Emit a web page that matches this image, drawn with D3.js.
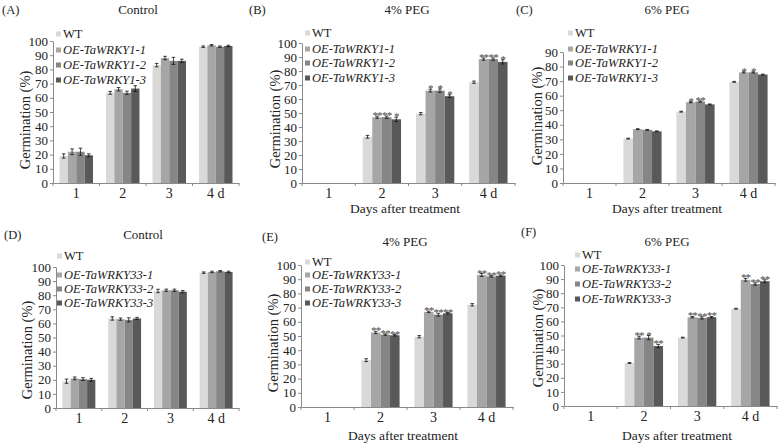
<!DOCTYPE html>
<html><head><meta charset="utf-8">
<script src="https://cdn.jsdelivr.net/npm/d3@7"></script>
<style>body{margin:0;background:#fff}svg{display:block}</style>
</head><body>
<svg id="c" width="778" height="443"></svg>
<script>
// ---------- DATA ----------
const days = ["1", "2", "3", "4 d"];
const linesW1 = ["WT", "OE-TaWRKY1-1", "OE-TaWRKY1-2", "OE-TaWRKY1-3"];
const linesW33 = ["WT", "OE-TaWRKY33-1", "OE-TaWRKY33-2", "OE-TaWRKY33-3"];
const yTicks100 = [0,10,20,30,40,50,60,70,80,90,100];
const yTicks90 = [0,10,20,30,40,50,60,70,80,90];

// values per day: [WT, OE-1, OE-2, OE-3]
const ctrlW1 = [[19,22,22,19.5],[63.5,66,63.5,66.5],[83,88,86,86],[96,97,96,96.5]];
const ctrlW1Err = [[1.5,2,2.5,1],[1,1.2,1.2,2],[1.2,1.2,2.5,1.2],[0.5,0.5,0.5,0.5]];
const ctrlW1Sig = [["","","",""],["","","",""],["","","",""],["","","",""]];

const peg4W1 = [[0,0,0,0],[33,47,47,45.5],[49.5,66,66,62],[72,88.5,88.5,86.5]];
const peg4W1Err = [[0,0,0,0],[1,0.8,0.8,1.5],[0.8,1,1.2,1],[0.8,0.8,0.8,1.5]];
const peg4W1Sig = [["","","",""],["","**","**","*"],["","*","*","*"],["","**","**","*"]];

const peg6W1 = [[0,0,0,0],[30.5,37,36.5,35.5],[49,55.5,56,54],[69.5,76,76,74.5]];
const peg6W1Err = [[0,0,0,0],[0.3,0.3,0.3,0.3],[0.3,0.4,0.4,0.3],[0.3,0.4,0.4,0.3]];
const peg6W1Sig = [["","","",""],["","","",""],["","*","**",""],["","*","*",""]];

const ctrlW33 = [[19,21,20.5,20],[63.5,63,62.5,63.5],[83,83.5,83.5,82.5],[96,96.5,97,96.5]];
const ctrlW33Err = [[1.5,1,1,1],[1.2,0.8,1.5,0.8],[1.2,0.8,0.8,0.8],[0.5,0.5,0.5,0.5]];
const ctrlW33Sig = [["","","",""],["","","",""],["","","",""],["","","",""]];

const peg4W33 = [[0,0,0,0],[33,52.5,51,50.5],[49.5,67,65,66],[72,93,92,92.5]];
const peg4W33Err = [[0,0,0,0],[1,0.8,0.5,0.5],[0.8,0.5,1,0.5],[0.8,1,0.5,0.5]];
const peg4W33Sig = [["","","",""],["","**","**","**"],["","**","**","**"],["","**","**","**"]];

const peg6W33 = [[0,0,0,0],[30.5,48.5,48.5,42.5],[48.5,63,62.5,63],[69,89.5,86.5,88.5]];
const peg6W33Err = [[0,0,0,0],[0.3,1,1.5,1.2],[0.3,0.5,0.8,0.5],[0.3,1,0.8,1]];
const peg6W33Sig = [["","","",""],["","**","*","**"],["","**","**","**"],["","**","**","**"]];

const colors = ["#d9d9d9", "#a6a6a6", "#868686", "#595959"];

// ---------- LAYOUT ----------
const panels = [
  {tag:"(A)", tagX:2, tagY:14, title:"Control", titleX:138, titleY:14, left:53, right:239, base:183, top:41, max:100, ticks:yTicks100,
   vals:ctrlW1, err:ctrlW1Err, sig:ctrlW1Sig, lines:linesW1, legX:56, legY:[34,50,65,80], ylabX:25, ylabY:120, xlab:false},
  {tag:"(B)", tagX:249, tagY:14, title:"4% PEG", titleX:407, titleY:14, left:302, right:515, base:183, top:43, max:100, ticks:yTicks100,
   vals:peg4W1, err:peg4W1Err, sig:peg4W1Sig, lines:linesW1, legX:305, legY:[33,49,63,78], ylabX:275, ylabY:119, xlab:true, xlabX:405, xlabY:213},
  {tag:"(C)", tagX:516, tagY:14, title:"6% PEG", titleX:667, titleY:14, left:563, right:775, base:183, top:52, max:90, ticks:yTicks90,
   vals:peg6W1, err:peg6W1Err, sig:peg6W1Sig, lines:linesW1, legX:568, legY:[33,49,63,78], ylabX:537, ylabY:116, xlab:true, xlabX:667, xlabY:213},
  {tag:"(D)", tagX:4, tagY:239, title:"Control", titleX:143, titleY:239, left:56, right:239, base:408, top:267, max:100, ticks:yTicks100,
   vals:ctrlW33, err:ctrlW33Err, sig:ctrlW33Sig, lines:linesW33, legX:57, legY:[256,275,289,303], ylabX:27, ylabY:350, xlab:false},
  {tag:"(E)", tagX:262, tagY:241, title:"4% PEG", titleX:405, titleY:246, left:301, right:513, base:407, top:265, max:100, ticks:yTicks100,
   vals:peg4W33, err:peg4W33Err, sig:peg4W33Sig, lines:linesW33, legX:305, legY:[262,275,289,303], ylabX:273, ylabY:343, xlab:true, xlabX:403, xlabY:440},
  {tag:"(F)", tagX:521, tagY:236, title:"6% PEG", titleX:667, titleY:246, left:564, right:777, base:406, top:265, max:100, ticks:yTicks100,
   vals:peg6W33, err:peg6W33Err, sig:peg6W33Sig, lines:linesW33, legX:575, legY:[255,269,284,299], ylabX:538, ylabY:338, xlab:true, xlabX:677, xlabY:440}
];

const FONT = "'Liberation Serif','Times New Roman',serif";
const svg = d3.select("#c");

panels.forEach(p => {
  const g = svg.append("g");
  const x0 = d3.scaleBand().domain(days).range([p.left, p.right]).padding(0);
  const step = x0.bandwidth();
  const gw = step * 0.72;
  const x1 = d3.scaleBand().domain(d3.range(4)).range([0, gw]).padding(0);
  const y = d3.scaleLinear().domain([0, p.max]).range([p.base, p.top]);

  // y axis
  const ya = g.append("g").attr("transform", `translate(${p.left},0)`)
    .call(d3.axisLeft(y).tickValues(p.ticks).tickSize(3).tickSizeOuter(0).tickPadding(2));
  ya.select(".domain").attr("stroke", "#8a8a8a");
  ya.selectAll(".tick line").attr("stroke", "#8a8a8a");
  ya.selectAll("text").attr("font-family", FONT).attr("font-size", 13).attr("fill", "#222");

  // x axis
  const xa = g.append("g").attr("transform", `translate(0,${p.base})`)
    .call(d3.axisBottom(x0).tickSize(0).tickSizeOuter(0).tickPadding(5));
  xa.select(".domain").attr("stroke", "#8a8a8a");
  xa.selectAll("text").attr("font-family", FONT).attr("font-size", 14).attr("fill", "#222");
  const bounds = days.map(d => x0(d)).concat([p.right]);
  g.selectAll(".bt").data(bounds).join("line")
    .attr("x1", d => d).attr("x2", d => d).attr("y1", p.base).attr("y2", p.base + 3)
    .attr("stroke", "#8a8a8a");

  // bars
  days.forEach((d, di) => {
    const gx = x0(d) + (step - gw) / 2;
    p.vals[di].forEach((v, si) => {
      if (v <= 0) return;
      const bx = gx + x1(si);
      const bw = x1.bandwidth();
      g.append("rect").attr("x", bx).attr("y", y(v)).attr("width", bw).attr("height", p.base - y(v))
        .attr("fill", colors[si]);
      const e = p.err[di][si];
      const cx = bx + bw / 2;
      g.append("line").attr("x1", cx).attr("x2", cx).attr("y1", y(v - e)).attr("y2", y(v + e)).attr("stroke", "#111").attr("stroke-width", 0.8);
      [v - e, v + e].forEach(t => g.append("line").attr("x1", cx - 1.8).attr("x2", cx + 1.8).attr("y1", y(t)).attr("y2", y(t)).attr("stroke", "#111").attr("stroke-width", 0.8));
      const s = p.sig[di][si];
      if (s) g.append("text").attr("x", cx).attr("y", y(v + e) + 3).attr("text-anchor", "middle")
        .attr("font-family", FONT).attr("font-size", 11).attr("letter-spacing", -0.8).attr("fill", "#444").attr("opacity", 0.99).text(s);
    });
  });

  // legend
  p.lines.forEach((l, i) => {
    g.append("rect").attr("x", p.legX).attr("y", p.legY[i] - 2.5).attr("width", 5).attr("height", 5).attr("fill", colors[i]);
    g.append("text").attr("x", p.legX + 7).attr("y", p.legY[i]).attr("dy", "0.35em")
      .attr("font-family", FONT).attr("font-size", 12.5).attr("font-style", i === 0 ? "normal" : "italic").attr("fill", "#222").text(l);
  });

  // titles and labels
  g.append("text").attr("x", p.tagX).attr("y", p.tagY).attr("font-family", FONT).attr("font-size", 12.5).attr("fill", "#222").text(p.tag);
  g.append("text").attr("x", p.titleX).attr("y", p.titleY).attr("text-anchor", "middle").attr("font-family", FONT).attr("font-size", 13).attr("fill", "#222").text(p.title);
  g.append("text").attr("transform", `translate(${p.ylabX},${p.ylabY}) rotate(-90)`).attr("text-anchor", "middle").attr("dy", "0.35em")
    .attr("font-family", FONT).attr("font-size", 14.5).attr("fill", "#222").text("Germination (%)");
  if (p.xlab) g.append("text").attr("x", p.xlabX).attr("y", p.xlabY).attr("text-anchor", "middle")
    .attr("font-family", FONT).attr("font-size", 13.5).attr("fill", "#222").text("Days after treatment");
});
</script>
</body></html>
